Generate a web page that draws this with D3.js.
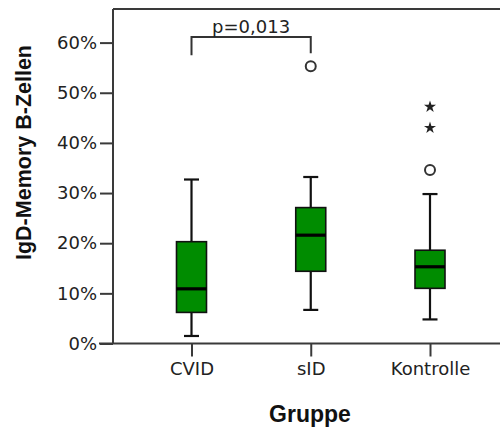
<!DOCTYPE html>
<html>
<head>
<meta charset="utf-8">
<script src="https://cdn.jsdelivr.net/npm/d3@7"></script>
<style>
    body { margin: 0; background: #fff; }
    svg { display: block; }
</style>
</head>
<body>
<script>
// values (percent)
const groups = ["CVID", "sID", "Kontrolle"];
const whiskerLow = [1.5, 6.7, 4.8];
const q1 = [6.2, 14.4, 11.0];
const median = [10.9, 21.6, 15.3];
const q3 = [20.3, 27.1, 18.6];
const whiskerHigh = [32.7, 33.2, 29.8];
const outliers = [["sID", 55.3], ["Kontrolle", 34.6]];
const extremes = [["Kontrolle", 47.2], ["Kontrolle", 43.0]];
const yTicks = [0, 10, 20, 30, 40, 50, 60];
const bracket = { from: "CVID", to: "sID", top: 61.1, endFrom: 57.5, endTo: 57.9, label: "p=0,013" };

const W = 500, H = 430;
const margin = { top: 9, right: 0, bottom: 86.5, left: 113 };

const svg = d3.select("body").append("svg")
    .attr("width", W)
    .attr("height", H);

const x = d3.scalePoint()
    .domain(groups)
    .range([191.5, 430]);

const y = d3.scaleLinear()
    .domain([0, 66.7])
    .range([H - margin.bottom, margin.top]);

const boxes = groups.map((g, i) => ({
    g, lo: whiskerLow[i], q1: q1[i], med: median[i], q3: q3[i], hi: whiskerHigh[i]
}));

const frameColor = "#3a3a3a";
const tickFont = "'DejaVu Sans', sans-serif";

// frame: left and top edge
svg.append("line")
    .attr("x1", margin.left).attr("x2", W)
    .attr("y1", margin.top).attr("y2", margin.top)
    .attr("stroke", frameColor).attr("stroke-width", 2);

const yAxis = d3.axisLeft(y)
    .tickValues(yTicks)
    .tickSize(13)
    .tickPadding(3)
    .tickFormat(d => d + "%");

const gy = svg.append("g")
    .attr("transform", `translate(${margin.left},0)`)
    .call(yAxis);
gy.select(".domain").remove();
gy.append("line")
    .attr("x1", 0).attr("x2", 0)
    .attr("y1", margin.top).attr("y2", y(0))
    .attr("stroke", frameColor).attr("stroke-width", 2);

const xAxis = d3.axisBottom(x)
    .tickSize(13)
    .tickPadding(6);

const gx = svg.append("g")
    .attr("transform", `translate(0,${y(0)})`)
    .call(xAxis);
gx.select(".domain").remove();
gx.append("line")
    .attr("x1", 99).attr("x2", W)
    .attr("y1", 0).attr("y2", 0)
    .attr("stroke", frameColor).attr("stroke-width", 2);

svg.selectAll(".tick line")
    .attr("stroke", frameColor)
    .attr("stroke-width", 2);
svg.selectAll(".tick text")
    .attr("fill", "#222")
    .style("font-family", tickFont)
    .style("font-size", "18px");

// whiskers
const cap = 15, boxW = 30;
const bx = svg.append("g");

bx.selectAll(".whisker")
    .data(boxes)
    .enter().append("line")
    .attr("class", "whisker")
    .attr("x1", d => x(d.g)).attr("x2", d => x(d.g))
    .attr("y1", d => y(d.lo)).attr("y2", d => y(d.hi))
    .attr("stroke", "#111").attr("stroke-width", 2.2);

["lo", "hi"].forEach(k => {
    bx.selectAll(".cap-" + k)
        .data(boxes)
        .enter().append("line")
        .attr("x1", d => x(d.g) - cap / 2).attr("x2", d => x(d.g) + cap / 2)
        .attr("y1", d => y(d[k])).attr("y2", d => y(d[k]))
        .attr("stroke", "#111").attr("stroke-width", 2.2);
});

bx.selectAll(".box")
    .data(boxes)
    .enter().append("rect")
    .attr("x", d => x(d.g) - boxW / 2)
    .attr("width", boxW)
    .attr("y", d => y(d.q3))
    .attr("height", d => y(d.q1) - y(d.q3))
    .attr("fill", "#008c00")
    .attr("stroke", "#111")
    .attr("stroke-width", 1.6);

bx.selectAll(".median")
    .data(boxes)
    .enter().append("line")
    .attr("x1", d => x(d.g) - boxW / 2).attr("x2", d => x(d.g) + boxW / 2)
    .attr("y1", d => y(d.med)).attr("y2", d => y(d.med))
    .attr("stroke", "#000").attr("stroke-width", 3.2);

// outliers (circles) and extremes (stars)
svg.selectAll(".outlier")
    .data(outliers)
    .enter().append("circle")
    .attr("cx", d => x(d[0]))
    .attr("cy", d => y(d[1]))
    .attr("r", 5)
    .attr("fill", "#fff")
    .attr("stroke", "#333")
    .attr("stroke-width", 2);

const star = d3.symbol().type(d3.symbolStar).size(45);
svg.selectAll(".extreme")
    .data(extremes)
    .enter().append("path")
    .attr("d", star)
    .attr("transform", d => `translate(${x(d[0])},${y(d[1])})`)
    .attr("fill", "#222");

// significance bracket
svg.append("path")
    .attr("d", d3.line()([
        [x(bracket.from), y(bracket.endFrom)],
        [x(bracket.from), y(bracket.top)],
        [x(bracket.to), y(bracket.top)],
        [x(bracket.to), y(bracket.endTo)]
    ]))
    .attr("fill", "none")
    .attr("stroke", "#333")
    .attr("stroke-width", 2);

svg.append("text")
    .attr("x", (x(bracket.from) + x(bracket.to)) / 2)
    .attr("y", y(bracket.top) - 4.5)
    .attr("text-anchor", "middle")
    .attr("fill", "#222")
    .style("font-family", tickFont)
    .style("font-size", "18px")
    .text(bracket.label);

// axis titles
svg.append("text")
    .attr("transform", `translate(31,152.5) rotate(-90)`)
    .attr("text-anchor", "middle")
    .attr("fill", "#111")
    .style("font-family", "'Liberation Sans', Arial, sans-serif")
    .style("font-weight", "bold")
    .style("font-size", "21.5px")
    .text("IgD-Memory B-Zellen");

svg.append("text")
    .attr("x", 310)
    .attr("y", 421.5)
    .attr("text-anchor", "middle")
    .attr("fill", "#111")
    .style("font-family", "'Liberation Sans', Arial, sans-serif")
    .style("font-weight", "bold")
    .style("font-size", "23px")
    .text("Gruppe");
</script>
</body>
</html>
